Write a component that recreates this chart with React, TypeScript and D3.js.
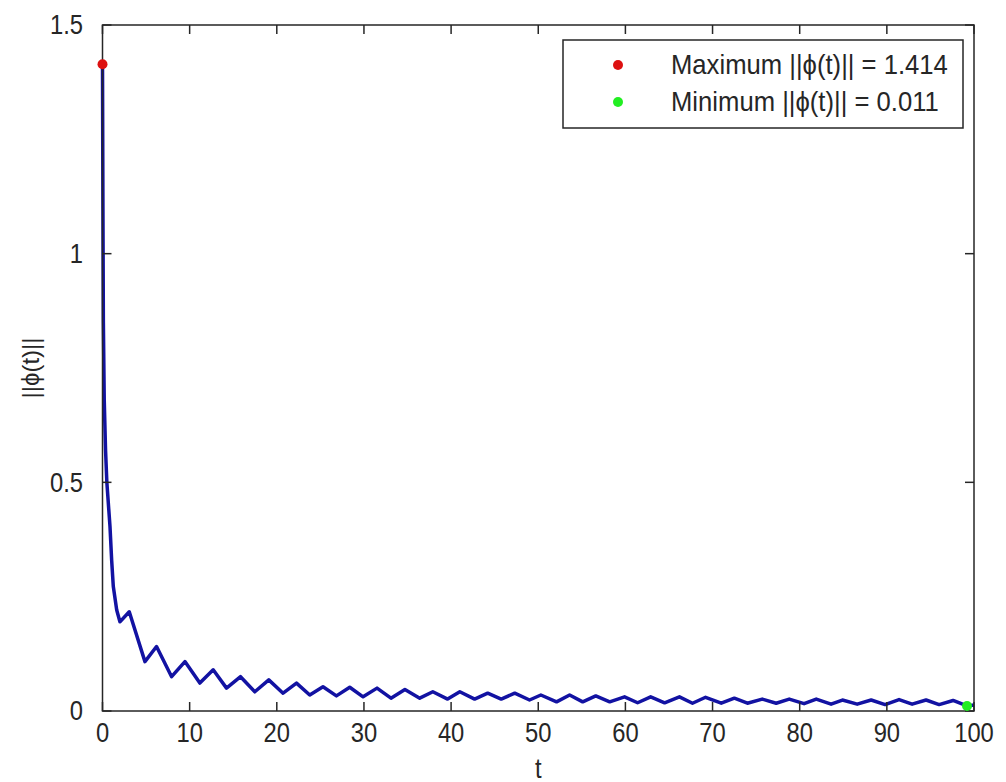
import React from "react";
import * as d3 from "d3";

const tValues: number[] = [
  0, 0.05, 0.1, 0.2, 0.35, 0.5, 0.86, 1.05, 1.24, 1.63, 2.0, 3.07, 4.87, 6.2, 7.93, 9.46,
  11.17, 12.7, 14.23, 15.84, 17.48, 19.08, 20.72, 22.26, 23.78, 25.3, 26.84, 28.37, 29.9,
  31.5, 33.1, 34.7, 36.4, 37.9, 39.6, 41.0, 42.7, 44.2, 45.75, 47.3, 49.0, 50.3, 52.1,
  53.6, 55.1, 56.6, 58.2, 59.9, 61.4, 62.9, 64.5, 66.2, 67.7, 69.2, 71.0, 72.5, 74.0,
  75.7, 77.3, 78.8, 80.5, 81.9, 83.6, 84.9, 86.6, 88.2, 89.8, 91.4, 92.9, 94.5, 96.0,
  97.6, 99.2, 100,
];
const phiNorm: number[] = [
  1.414, 1.1, 0.85, 0.68, 0.57, 0.5, 0.403, 0.33, 0.272, 0.221, 0.195, 0.217, 0.108, 0.141,
  0.075, 0.108, 0.061, 0.09, 0.05, 0.075, 0.042, 0.068, 0.039, 0.061, 0.035, 0.053, 0.033,
  0.052, 0.031, 0.05, 0.028, 0.047, 0.028, 0.042, 0.026, 0.042, 0.026, 0.039, 0.026, 0.039,
  0.024, 0.035, 0.02, 0.035, 0.02, 0.033, 0.02, 0.031, 0.018, 0.031, 0.018, 0.031, 0.017,
  0.03, 0.017, 0.028, 0.017, 0.026, 0.017, 0.026, 0.016, 0.026, 0.015, 0.024, 0.015, 0.024,
  0.014, 0.025, 0.015, 0.024, 0.014, 0.023, 0.011, 0.013,
];

const xTicks: number[] = [0, 10, 20, 30, 40, 50, 60, 70, 80, 90, 100];
const yTicks: number[] = [0, 0.5, 1, 1.5];
const yTickLabels: string[] = ["0", "0.5", "1", "1.5"];

const maxPoint = { t: 0, v: 1.414 };
const minPoint = { t: 99.2, v: 0.011 };
const legendLabels: string[] = [
  "Maximum ||\u03d5(t)|| = 1.414",
  "Minimum ||\u03d5(t)|| = 0.011",
];

const W = 1006;
const H = 782;
const left = 102.5;
const right = 974;
const top = 25;
const bottom = 711;
const FONT = "'Liberation Sans', Arial, Helvetica, sans-serif";
const TXT = "#262626";

function SText(props: {
  x: number;
  y: number;
  sx: number;
  size: number;
  anchor?: string;
  dy?: string;
  children: React.ReactNode;
}) {
  return (
    <text
      transform={`translate(${props.x},${props.y}) scale(${props.sx},1)`}
      textAnchor={props.anchor || "start"}
      dy={props.dy}
      fontSize={props.size}
      fill={TXT}
    >
      {props.children}
    </text>
  );
}

export default function App() {
  const x = d3.scaleLinear().domain([0, 100]).range([left, right]);
  const y = d3.scaleLinear().domain([0, 1.5]).range([bottom, top]);
  const pts: [number, number][] = tValues.map((t, i) => [t, phiNorm[i]]);
  const line = d3
    .line<[number, number]>()
    .x((d) => x(d[0]))
    .y((d) => y(d[1]));
  const tickLen = 9;
  const frame = "#262626";
  const legend = { x0: 563, y0: 40, x1: 963, y1: 128 };
  const legendRows = [65, 102];

  return (
    <svg
      width={W}
      height={H}
      style={{ position: "absolute", left: 0, top: 0, background: "#fff" }}
      fontFamily={FONT}
    >
      <rect x={0} y={0} width={W} height={H} fill="#fff" />
      {/* data line */}
      <path
        d={line(pts) || ""}
        fill="none"
        stroke="#1212a2"
        strokeWidth={3.5}
        strokeLinejoin="round"
      />
      {/* frame */}
      <rect
        x={left}
        y={top}
        width={right - left}
        height={bottom - top}
        fill="none"
        stroke={frame}
        strokeWidth={1.5}
      />
      {/* x ticks */}
      {xTicks.map((t) => (
        <g key={"xt" + t}>
          <line x1={x(t)} x2={x(t)} y1={bottom} y2={bottom - tickLen} stroke={frame} strokeWidth={1.5} />
          <line x1={x(t)} x2={x(t)} y1={top} y2={top + tickLen} stroke={frame} strokeWidth={1.5} />
          <SText x={x(t)} y={742} sx={0.88} size={27} anchor="middle">
            {t}
          </SText>
        </g>
      ))}
      {/* y ticks */}
      {yTicks.map((v, i) => (
        <g key={"yt" + v}>
          <line x1={left} x2={left + tickLen} y1={y(v)} y2={y(v)} stroke={frame} strokeWidth={1.5} />
          <line x1={right} x2={right - tickLen} y1={y(v)} y2={y(v)} stroke={frame} strokeWidth={1.5} />
          <SText x={83} y={y(v)} dy="0.35em" sx={0.88} size={27} anchor="end">
            {yTickLabels[i]}
          </SText>
        </g>
      ))}
      {/* axis labels */}
      <SText x={x(50)} y={778} sx={0.88} size={27} anchor="middle">
        t
      </SText>
      <text
        transform={`translate(39, 368) rotate(-90)`}
        textAnchor="middle"
        fontSize={24}
        fill={TXT}
      >
        ||{"\u03d5"}(t)||
      </text>
      {/* max / min markers */}
      <circle cx={x(maxPoint.t)} cy={y(maxPoint.v)} r={5} fill="#dd1111" />
      <circle cx={x(minPoint.t)} cy={y(minPoint.v)} r={5} fill="#22ee22" />
      {/* legend */}
      <rect
        x={legend.x0}
        y={legend.y0}
        width={legend.x1 - legend.x0}
        height={legend.y1 - legend.y0}
        fill="#fff"
        stroke={frame}
        strokeWidth={1.5}
      />
      {legendLabels.map((lab, i) => (
        <g key={lab}>
          <circle cx={618} cy={legendRows[i]} r={5} fill={i === 0 ? "#dd1111" : "#22ee22"} />
          <SText x={671} y={legendRows[i]} dy="0.35em" sx={0.95} size={27}>
            {lab}
          </SText>
        </g>
      ))}
    </svg>
  );
}
